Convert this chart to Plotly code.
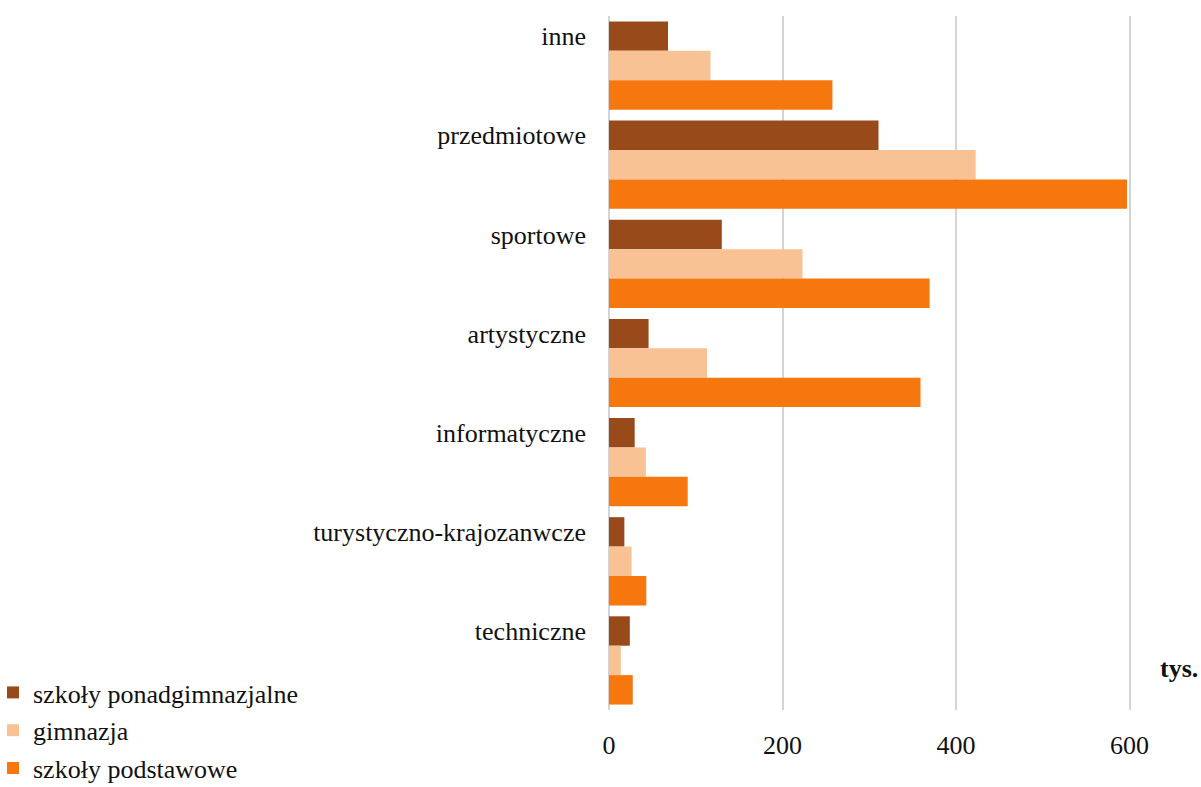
import plotly.graph_objects as go

categories = ["inne", "przedmiotowe", "sportowe", "artystyczne",
              "informatyczne", "turystyczno-krajozanwcze", "techniczne"]
ponadgimnazjalne = [68, 310.6, 130, 45.6, 29.6, 17.7, 24]
gimnazja = [117, 422.6, 223, 113, 42.5, 26, 13.7]
podstawowe = [257.5, 597, 369.5, 359, 90.7, 43, 27.4]
x_ticks = [0, 200, 400, 600]

series = [
    ("szkoły ponadgimnazjalne", ponadgimnazjalne, "#984A1B"),
    ("gimnazja", gimnazja, "#F9C294"),
    ("szkoły podstawowe", podstawowe, "#F5770E"),
]

FONT = "Liberation Serif"
FS = 26
pos = list(range(len(categories)))

PLOT_L, PLOT_R, PLOT_T, PLOT_B = 609, 1173, 16, 710
PW, PH = PLOT_R - PLOT_L, PLOT_B - PLOT_T

fig = go.Figure()
for i, (name, vals, col) in enumerate(series):
    fig.add_trace(go.Bar(
        y=pos, x=vals, orientation="h", name=name,
        marker=dict(color=col, line=dict(width=0)),
        legendgroup=f"g{i}",
    ))

fig.update_layout(
    width=1201, height=787,
    margin=dict(l=PLOT_L, r=1201 - PLOT_R, t=PLOT_T, b=787 - PLOT_B, autoexpand=False),
    paper_bgcolor="white", plot_bgcolor="white",
    barmode="group", bargap=0.11, bargroupgap=0,
    font=dict(family=FONT, size=FS, color="#111"),
    showlegend=True,
    legend=dict(
        xref="paper", yref="paper",
        x=(-7 - PLOT_L) / PW, y=1 - (669 - PLOT_T) / PH,
        xanchor="left", yanchor="top",
        traceorder="grouped", tracegroupgap=1,
        font=dict(family=FONT, size=FS, color="#111"),
        bgcolor="rgba(0,0,0,0)", itemwidth=30,
    ),
    xaxis=dict(
        range=[0, 650], tickvals=x_ticks, showgrid=True,
        gridcolor="#d4d4d4", gridwidth=1.5, zeroline=True,
        zerolinecolor="#d4d4d4", zerolinewidth=1.5,
        showline=False, ticks="", ticklabelstandoff=17,
        tickfont=dict(family=FONT, size=FS, color="#111"),
    ),
    yaxis=dict(
        range=[6.5, -0.5], tickvals=[p - 0.297 for p in pos], ticktext=categories,
        showgrid=False, zeroline=False, showline=False, ticks="",
        ticklabelstandoff=22,
        tickfont=dict(family=FONT, size=FS, color="#111"),
    ),
    annotations=[dict(
        text="<b>tys.</b>", xref="paper", yref="paper", x=1.0106, y=0.0605,
        xanchor="center", yanchor="middle", showarrow=False,
        font=dict(family=FONT, size=FS, color="#111"),
    )],
)

fig.write_html("out.html", config={"displayModeBar": False},
               post_script="document.body.style.margin='0';")
